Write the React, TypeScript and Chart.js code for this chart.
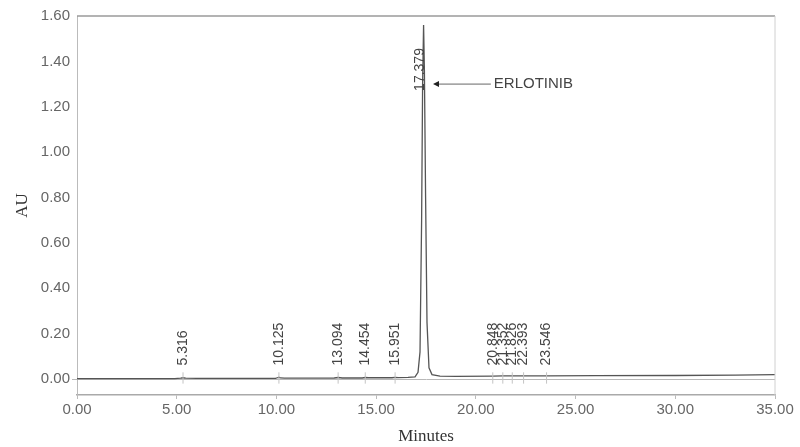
import React, { useEffect, useRef } from "react";
import { Chart, registerables } from "chart.js";

Chart.register(...registerables);

// Chromatogram trace (minutes, AU)
const timeMin = [0, 2, 4.9, 5.2, 5.316, 5.45, 6, 9.95, 10.05, 10.125, 10.2, 10.4, 12.9, 13.094, 13.3, 14.3, 14.454, 14.6, 15.8, 15.951, 16.1, 16.6, 16.95, 17.1, 17.2, 17.28, 17.33, 17.379, 17.42, 17.48, 17.55, 17.65, 17.8, 18.2, 19, 20.848, 21.352, 21.826, 22.393, 23.546, 26, 30, 33, 35];
const absorbance = [0.002, 0.002, 0.002, 0.004, 0.006, 0.004, 0.003, 0.003, 0.006, 0.008, 0.005, 0.004, 0.005, 0.007, 0.005, 0.005, 0.007, 0.006, 0.006, 0.008, 0.007, 0.008, 0.01, 0.03, 0.12, 0.7, 1.3, 1.56, 1.36, 0.8, 0.25, 0.05, 0.02, 0.013, 0.012, 0.013, 0.014, 0.014, 0.014, 0.014, 0.015, 0.016, 0.018, 0.02];

// Peak annotations
const peakTimes = [5.316, 10.125, 13.094, 14.454, 15.951, 17.379, 20.848, 21.352, 21.826, 22.393, 23.546];
const peakLabels = ["5.316", "10.125", "13.094", "14.454", "15.951", "17.379", "20.848", "21.352", "21.826", "22.393", "23.546"];
const peakLabelBase = [0.06, 0.06, 0.06, 0.06, 0.06, 1.27, 0.06, 0.06, 0.06, 0.06, 0.06];

const compoundName = "ERLOTINIB";
const compoundArrowFrom = 20.75;
const compoundArrowTo = 17.85;
const compoundArrowLevel = 1.3;

const xTicks = [0, 5, 10, 15, 20, 25, 30, 35];
const yTicks = [0, 0.2, 0.4, 0.6, 0.8, 1.0, 1.2, 1.4, 1.6];

export default function App() {
  const ref = useRef<HTMLCanvasElement | null>(null);

  useEffect(() => {
    document.body.style.margin = "0";
    const canvas = ref.current!;
    const annot = {
      id: "annot",
      afterDatasetsDraw(chart: any) {
        const ctx = chart.ctx;
        const xs = chart.scales.x;
        const ys = chart.scales.y;
        const area = chart.chartArea;
        ctx.save();
        // frame top and right
        ctx.strokeStyle = "#9a9a9a";
        ctx.lineWidth = 1.5;
        ctx.beginPath();
        ctx.moveTo(area.left, area.top);
        ctx.lineTo(area.right, area.top);
        ctx.stroke();
        ctx.strokeStyle = "#d0d0d0";
        ctx.lineWidth = 1;
        ctx.beginPath();
        ctx.moveTo(area.right, area.top);
        ctx.lineTo(area.right, area.bottom);
        ctx.stroke();
        // peak labels
        ctx.fillStyle = "#444";
        ctx.font = "14px 'Liberation Sans', Arial, sans-serif";
        peakTimes.forEach((t, i) => {
          const px = xs.getPixelForValue(t);
          const py = ys.getPixelForValue(peakLabelBase[i]);
          ctx.save();
          ctx.translate(px - (i === 5 ? 3 : 0), py);
          ctx.rotate(-Math.PI / 2);
          ctx.textAlign = "left";
          ctx.textBaseline = "middle";
          ctx.fillText(peakLabels[i], 0, 0);
          ctx.restore();
          if (i !== 5) {
            ctx.strokeStyle = "#c4c4c4";
            ctx.lineWidth = 1;
            ctx.beginPath();
            ctx.moveTo(px, ys.getPixelForValue(0.03));
            ctx.lineTo(px, ys.getPixelForValue(-0.02));
            ctx.stroke();
          }
        });
        // arrow annotation
        const ay = ys.getPixelForValue(compoundArrowLevel);
        const ax0 = xs.getPixelForValue(compoundArrowFrom);
        const ax1 = xs.getPixelForValue(compoundArrowTo);
        ctx.strokeStyle = "#666";
        ctx.lineWidth = 1;
        ctx.beginPath();
        ctx.moveTo(ax0, ay);
        ctx.lineTo(ax1 + 4, ay);
        ctx.stroke();
        ctx.fillStyle = "#222";
        ctx.beginPath();
        ctx.moveTo(ax1, ay);
        ctx.lineTo(ax1 + 6, ay - 3);
        ctx.lineTo(ax1 + 6, ay + 3);
        ctx.closePath();
        ctx.fill();
        ctx.fillStyle = "#444";
        ctx.font = "15px 'Liberation Sans', Arial, sans-serif";
        ctx.textAlign = "left";
        ctx.textBaseline = "middle";
        ctx.fillText(compoundName, ax0 + 3, ay);
        ctx.restore();
      },
    };

    const chart = new Chart(canvas, {
      type: "line",
      data: {
        datasets: [
          {
            data: timeMin.map((t, i) => ({ x: t, y: absorbance[i] })),
            borderColor: "#555",
            borderWidth: 1.3,
            pointRadius: 0,
            tension: 0,
            fill: false,
          },
        ],
      },
      options: {
        animation: false,
        responsive: false,
        maintainAspectRatio: false,
        layout: { padding: { left: 0, right: 25, top: 16, bottom: 0 } },
        plugins: { legend: { display: false }, tooltip: { enabled: false } },
        scales: {
          x: {
            type: "linear",
            min: 0,
            max: 35,
            afterBuildTicks: (s: any) => {
              s.ticks = xTicks.map((v) => ({ value: v }));
            },
            afterFit: (s: any) => {
              s.height = 52;
            },
            grid: {
              display: true,
              drawOnChartArea: false,
              drawTicks: true,
              tickLength: 4,
              color: "#bbb",
            },
            border: { display: true, color: "#aaa", width: 1.5 },
            ticks: {
              color: "#666",
              font: { family: "'Liberation Sans', Arial, sans-serif", size: 15 },
              padding: 2,
              maxRotation: 0,
              callback: (v: any) => Number(v).toFixed(2),
            },
            title: {
              display: true,
              text: "Minutes",
              color: "#333",
              font: { family: "'Liberation Serif', 'Times New Roman', serif", size: 17 },
              padding: { top: 2, bottom: 0 },
            },
          },
          y: {
            type: "linear",
            min: -0.07,
            max: 1.6,
            afterBuildTicks: (s: any) => {
              s.ticks = yTicks.map((v) => ({ value: v }));
            },
            afterFit: (s: any) => {
              s.width = 77;
            },
            grid: {
              display: true,
              drawOnChartArea: true,
              drawTicks: true,
              tickLength: 5,
              color: (c: any) => (c.tick && Math.abs(c.tick.value) < 1e-9 ? "#b8b8b8" : "rgba(0,0,0,0)"),
            },
            border: { display: true, color: "#bbb", width: 1 },
            ticks: {
              color: "#666",
              font: { family: "'Liberation Sans', Arial, sans-serif", size: 15 },
              padding: 2,
              callback: (v: any) => Number(v).toFixed(2),
            },
            title: {
              display: true,
              text: "AU",
              color: "#333",
              font: { family: "'Liberation Serif', 'Times New Roman', serif", size: 17 },
              padding: { top: 12, bottom: 0 },
            },
          },
        },
      },
      plugins: [annot],
    });
    return () => chart.destroy();
  }, []);

  return <canvas ref={ref} width={800} height={447} style={{ display: "block" }} />;
}
